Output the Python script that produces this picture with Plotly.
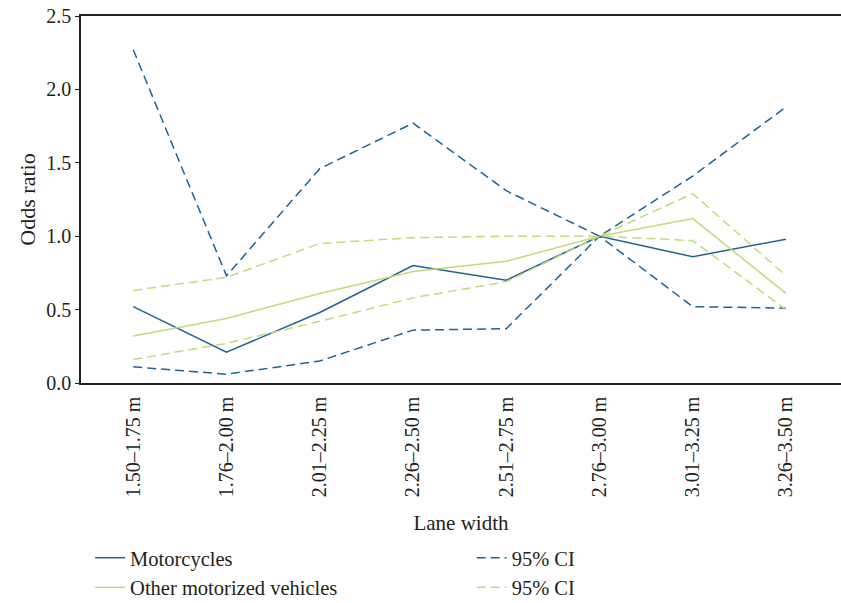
import plotly.graph_objects as go

# Lane-width categories
lane_widths = ["1.50–1.75 m", "1.76–2.00 m", "2.01–2.25 m", "2.26–2.50 m",
               "2.51–2.75 m", "2.76–3.00 m", "3.01–3.25 m", "3.26–3.50 m"]

# Odds ratios and 95% confidence limits
moto_or = [0.52, 0.21, 0.48, 0.80, 0.70, 1.00, 0.86, 0.98]
moto_hi = [2.27, 0.73, 1.46, 1.77, 1.31, 1.00, 1.41, 1.88]
moto_lo = [0.11, 0.06, 0.15, 0.36, 0.37, 1.00, 0.52, 0.51]

other_or = [0.32, 0.44, 0.61, 0.76, 0.83, 1.00, 1.12, 0.61]
other_hi = [0.63, 0.72, 0.95, 0.99, 1.00, 1.00, 1.29, 0.73]
other_lo = [0.16, 0.27, 0.42, 0.58, 0.69, 1.00, 0.97, 0.50]

BLUE = "#1f6391"
GREEN = "#c2da7c"
INK = "#231f20"
FONT = "Liberation Serif"
DASH = "9px,5px"

x = list(range(len(lane_widths)))

fig = go.Figure()

# Left legend column: point estimates
fig.add_trace(go.Scatter(x=x, y=moto_or, mode="lines", name="Motorcycles",
                         legend="legend", line=dict(color=BLUE, width=1.5)))
fig.add_trace(go.Scatter(x=x, y=other_or, mode="lines", name="Other motorized vehicles",
                         legend="legend", line=dict(color=GREEN, width=1.5)))

# Right legend column: confidence limits
fig.add_trace(go.Scatter(x=x, y=moto_hi, mode="lines", name="95% CI",
                         legend="legend2", legendgroup="moto_ci",
                         line=dict(color=BLUE, width=1.5, dash=DASH)))
fig.add_trace(go.Scatter(x=x, y=other_hi, mode="lines", name="95% CI",
                         legend="legend2", legendgroup="other_ci",
                         line=dict(color=GREEN, width=1.5, dash=DASH)))
fig.add_trace(go.Scatter(x=x, y=moto_lo, mode="lines", name="95% CI",
                         legend="legend2", legendgroup="moto_ci", showlegend=False,
                         line=dict(color=BLUE, width=1.5, dash=DASH)))
fig.add_trace(go.Scatter(x=x, y=other_lo, mode="lines", name="95% CI",
                         legend="legend2", legendgroup="other_ci", showlegend=False,
                         line=dict(color=GREEN, width=1.5, dash=DASH)))

# Tick marks sit between categories
boundaries = [i - 0.5 for i in range(len(lane_widths) + 1)]
fig.add_trace(go.Scatter(
    x=sum([[b, b, None] for b in boundaries], []),
    y=sum([[0, -0.035, None] for _ in boundaries], []),
    mode="lines", line=dict(color=INK, width=1.2),
    showlegend=False, hoverinfo="skip", cliponaxis=False,
))

legend_style = dict(orientation="v", yref="container", yanchor="top", y=0.108,
                    xanchor="left",
                    font=dict(family=FONT, size=20.5, color=INK),
                    itemwidth=30, tracegroupgap=0, bgcolor="rgba(0,0,0,0)")

fig.update_layout(
    width=841, height=603,
    margin=dict(l=81, r=0, t=16, b=220, autoexpand=False),
    paper_bgcolor="white", plot_bgcolor="white",
    font=dict(family=FONT, size=18, color=INK),
    showlegend=True,
    legend=dict(x=0.012, **legend_style),
    legend2=dict(x=0.514, **legend_style),
    xaxis=dict(
        range=[-0.56, 7.59],
        tickmode="array", tickvals=x, ticktext=lane_widths,
        tickangle=-90, ticks="", ticklabelstandoff=4,
        showgrid=False, zeroline=False,
        showline=True, linecolor=INK, linewidth=1.5, mirror=True,
        tickfont=dict(family=FONT, size=20),
        title=dict(text="Lane width", font=dict(family=FONT, size=21), standoff=19),
    ),
    yaxis=dict(
        range=[0, 2.5], tickvals=[0, 0.5, 1.0, 1.5, 2.0, 2.5], tickformat=".1f",
        ticks="outside", ticklen=4, tickcolor=INK,
        showgrid=False, zeroline=False,
        showline=True, linecolor=INK, linewidth=1.5,
        tickfont=dict(family=FONT, size=20),
        title=dict(text="Odds ratio", font=dict(family=FONT, size=22), standoff=5),
    ),
)

fig.write_html("out.html")
